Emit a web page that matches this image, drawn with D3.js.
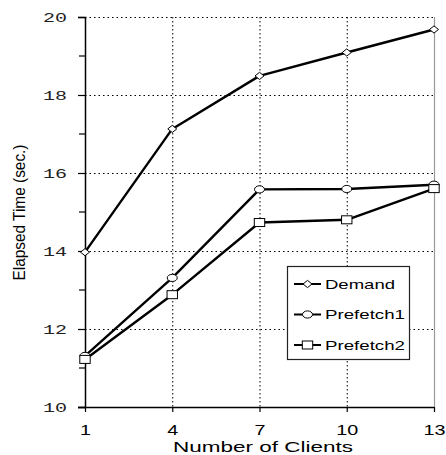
<!DOCTYPE html>
<html>
<head>
<meta charset="utf-8">
<script src="https://cdn.jsdelivr.net/npm/d3@7/dist/d3.min.js"></script>
<style>
  html, body { margin: 0; padding: 0; background: #fff; }
  svg { display: block; }
</style>
</head>
<body>
<svg id="chart" width="446" height="455"></svg>
<script>
// Elapsed time versus number of clients
const clients = [1, 4, 7, 10, 13];
const demand = [13.97, 17.13, 18.49, 19.09, 19.68];
const prefetch1 = [11.31, 13.31, 15.58, 15.59, 15.70];
const prefetch2 = [11.22, 12.88, 14.73, 14.80, 15.60];
const seriesNames = ["Demand", "Prefetch1", "Prefetch2"];
const yTicks = [10, 12, 14, 16, 18, 20];
const yMinorTicks = [11, 13, 15, 17, 19];
const xTickLabels = ["1", "4", "7", "10", "13"];

const svg = d3.select("#chart");
const x = d3.scaleLinear().domain([1, 13]).range([85, 434]);
const y = d3.scaleLinear().domain([10, 20]).range([407, 17]);

// grid
const grid = svg.append("g");
grid.selectAll("line.h").data(yTicks.filter(v => v > 10)).enter().append("line")
  .attr("x1", x(1)).attr("x2", x(13))
  .attr("y1", d => y(d) + 0.5).attr("y2", d => y(d) + 0.5)
  .attr("stroke", "#000").attr("stroke-width", 1).attr("stroke-dasharray", "1.5,3");
grid.selectAll("line.v").data(clients.slice(1, -1)).enter().append("line")
  .attr("x1", d => x(d) + 0.5).attr("x2", d => x(d) + 0.5)
  .attr("y1", y(20)).attr("y2", y(10))
  .attr("stroke", "#000").attr("stroke-width", 1).attr("stroke-dasharray", "1.5,2.5");
grid.append("line")
  .attr("x1", x(13) + 0.5).attr("x2", x(13) + 0.5)
  .attr("y1", y(20)).attr("y2", y(10))
  .attr("stroke", "#999").attr("stroke-width", 1.2);

// axes
const yAxis = d3.axisLeft(y).tickValues(yTicks).tickSize(7).tickPadding(11)
  .tickFormat(d3.format("d"));
const gy = svg.append("g").attr("transform", `translate(${x(1)},0)`).call(yAxis);
gy.select(".domain").attr("stroke", "#000").attr("stroke-width", 1.5);
gy.selectAll(".tick line").attr("stroke-width", 1.2);
gy.selectAll(".tick text")
  .attr("font-family", "'Liberation Mono', 'DejaVu Sans Mono', monospace")
  .attr("font-size", 12.5).attr("fill", "#222")
  .attr("textLength", 24).attr("lengthAdjust", "spacingAndGlyphs");

svg.append("g").selectAll("line").data(yMinorTicks).enter().append("line")
  .attr("x1", x(1) - 6).attr("x2", x(1))
  .attr("y1", d => y(d)).attr("y2", d => y(d))
  .attr("stroke", "#000").attr("stroke-width", 1.2);

const xAxis = d3.axisBottom(x).tickValues(clients).tickSize(5).tickPadding(13)
  .tickFormat((d, i) => xTickLabels[i]);
const gx = svg.append("g").attr("transform", `translate(0,${y(10)})`).call(xAxis);
gx.select(".domain").attr("d", `M${x(1) - 7},0.5H${x(13)}`).attr("stroke", "#000").attr("stroke-width", 1.5);
gx.selectAll(".tick line").attr("stroke-width", 1.2);
gx.selectAll(".tick text")
  .attr("font-family", "'Liberation Sans', Arial, sans-serif")
  .attr("font-size", 14).attr("fill", "#000")
  .attr("textLength", d => String(d).length * 11)
  .attr("lengthAdjust", "spacingAndGlyphs");

// axis titles
svg.append("text")
  .attr("x", 263).attr("y", 452)
  .attr("text-anchor", "middle")
  .attr("font-family", "'Liberation Sans', Arial, sans-serif")
  .attr("font-size", 14.5)
  .attr("textLength", 180).attr("lengthAdjust", "spacingAndGlyphs")
  .text("Number of Clients");

svg.append("text")
  .attr("transform", "translate(25,212.5) rotate(-90)")
  .attr("text-anchor", "middle")
  .attr("font-family", "'Liberation Sans', Arial, sans-serif")
  .attr("font-size", 16.5)
  .attr("textLength", 136).attr("lengthAdjust", "spacingAndGlyphs")
  .text("Elapsed Time (sec.)");

// series
const series = [
  { name: seriesNames[0], values: demand, shape: "diamond" },
  { name: seriesNames[1], values: prefetch1, shape: "circle" },
  { name: seriesNames[2], values: prefetch2, shape: "square" }
];

const line = d3.line().x((d, i) => x(clients[i])).y(d => y(d));

function drawMarker(g, shape, cx, cy) {
  if (shape === "diamond") {
    g.append("path")
      .attr("d", `M${cx - 4.5},${cy}L${cx},${cy - 3.6}L${cx + 4.5},${cy}L${cx},${cy + 3.6}Z`)
      .attr("fill", "#fff").attr("stroke", "#000").attr("stroke-width", 1);
  } else if (shape === "circle") {
    g.append("ellipse").attr("cx", cx).attr("cy", cy).attr("rx", 5).attr("ry", 3.6)
      .attr("fill", "#fff").attr("stroke", "#000").attr("stroke-width", 1);
  } else {
    g.append("rect").attr("x", cx - 5.2).attr("y", cy - 4).attr("width", 10.4).attr("height", 8)
      .attr("fill", "#fff").attr("stroke", "#000").attr("stroke-width", 1);
  }
}

series.forEach(s => {
  const g = svg.append("g");
  g.append("path").datum(s.values)
    .attr("d", line)
    .attr("fill", "none").attr("stroke", "#000").attr("stroke-width", 2.4)
    .attr("stroke-linejoin", "round");
  s.values.forEach((v, i) => drawMarker(g, s.shape, x(clients[i]), y(v)));
});

// legend
const legend = svg.append("g");
legend.append("rect")
  .attr("x", 287.5).attr("y", 266.5).attr("width", 122).attr("height", 93)
  .attr("fill", "#fff").attr("stroke", "#222").attr("stroke-width", 1.2);
const rowY = [284, 314.5, 345];
series.forEach((s, i) => {
  const ly = rowY[i];
  legend.append("line")
    .attr("x1", 294).attr("x2", 321).attr("y1", ly).attr("y2", ly)
    .attr("stroke", "#000").attr("stroke-width", 2);
  drawMarker(legend, s.shape, 307.5, ly);
  legend.append("text")
    .attr("x", 325).attr("y", ly + 4.5)
    .attr("font-family", "'Liberation Sans', Arial, sans-serif")
    .attr("font-size", 13.5)
    .attr("textLength", s.name.length > 6 ? 80 : 70)
    .attr("lengthAdjust", "spacingAndGlyphs")
    .text(s.name);
});
</script>
</body>
</html>
